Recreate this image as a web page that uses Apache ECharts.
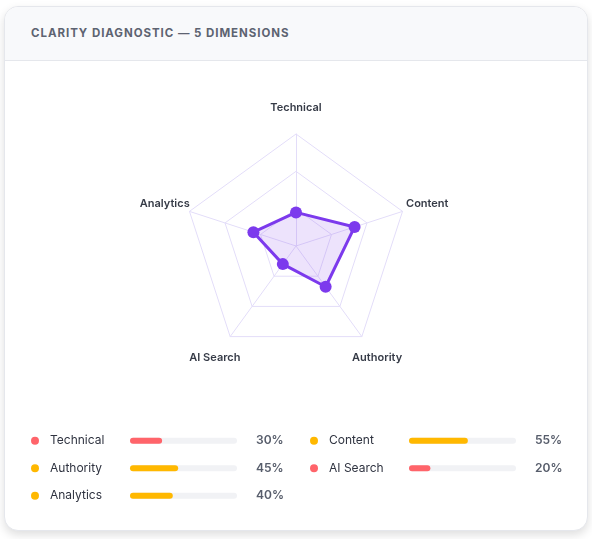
<!DOCTYPE html>
<html>
<head>
<meta charset="utf-8">
<script src="https://cdn.jsdelivr.net/npm/echarts@6/dist/echarts.min.js"></script>
<style>
    html, body { margin: 0; padding: 0; width: 592px; height: 539px; overflow: hidden; background: #fff; font-family: Inter, 'Noto Sans', sans-serif; }
    .card {
        position: absolute; left: 4px; top: 6px; width: 584px; height: 525px;
        box-sizing: border-box; border: 1px solid #e5e7ec; border-radius: 14px;
        background: #fff; box-shadow: 0 4px 10px rgba(0, 0, 0, 0.13); overflow: hidden;
    }
    .card-head {
        height: 54px; box-sizing: border-box; background: #f8f9fb; border-bottom: 1px solid #e5e7ec;
        padding-left: 26px; display: flex; align-items: center;
    }
    .card-head span {
        font-size: 11.5px; font-weight: 700; letter-spacing: 0.95px; color: #5d6371; margin-top: -2px;
    }
    #chart { position: absolute; left: 0; top: 0; width: 592px; height: 539px; }
</style>
</head>
<body>
<div class="card">
    <div class="card-head"><span>CLARITY DIAGNOSTIC — 5 DIMENSIONS</span></div>
</div>
<div id="chart"></div>
<script>
// 五个维度 (顺时针顺序，同时也是下方图例的行优先顺序)
const dimensions = ['Technical', 'Content', 'Authority', 'AI Search', 'Analytics'];
const scores = [30, 55, 45, 20, 40];
const tones = ['low', 'mid', 'mid', 'low', 'mid'];

// ECharts 雷达图按逆时针排列指标，这里给出逆时针顺序
const radarOrder = ['Technical', 'Analytics', 'AI Search', 'Authority', 'Content'];

// 下方图例：左列 / 右列
const leftNames = ['Technical', 'Authority', 'Analytics'];
const rightNames = ['Content', 'AI Search'];

const toneColor = { low: '#ff646a', mid: '#ffb800' };
const scoreOf = (name) => scores[dimensions.indexOf(name)];
const toneOf = (name) => tones[dimensions.indexOf(name)];

const chart = echarts.init(document.getElementById('chart'), null, { renderer: 'canvas' });

// 左侧标签：彩色圆点 + 名称
const nameLabel = {
    show: true,
    align: 'left',
    margin: 99,
    formatter: (value) => '{' + toneOf(value) + '|}{n|' + value + '}',
    rich: {
        low: { width: 8, height: 8, borderRadius: 4, backgroundColor: toneColor.low },
        mid: { width: 8, height: 8, borderRadius: 4, backgroundColor: toneColor.mid },
        n: { padding: [0, 0, 0, 11], fontSize: 12, color: '#2f3340', fontFamily: 'Inter' }
    }
};

const pctLabel = {
    show: true,
    align: 'left',
    margin: 19,
    fontSize: 12,
    fontWeight: 600,
    color: '#575d6b',
    fontFamily: 'Inter'
};

const barSeries = (names, idx) => ({
    type: 'bar',
    xAxisIndex: idx,
    yAxisIndex: idx * 2,
    barWidth: 6,
    silent: true,
    showBackground: true,
    backgroundStyle: { color: '#f1f2f5', borderRadius: 3 },
    data: names.map(n => ({
        value: scoreOf(n),
        itemStyle: { color: toneColor[toneOf(n)], borderRadius: 3 }
    }))
});

const categoryAxis = (names, idx) => ([
    {
        type: 'category', gridIndex: idx, inverse: true, data: names,
        axisLine: { show: false }, axisTick: { show: false }, axisLabel: nameLabel
    },
    {
        type: 'category', gridIndex: idx, inverse: true, position: 'right',
        data: names.map(n => scoreOf(n) + '%'),
        axisLine: { show: false }, axisTick: { show: false }, axisLabel: pctLabel
    }
]);

const option = {
    backgroundColor: 'transparent',
    animation: false,
    radar: {
        center: [296, 246],
        radius: 112,
        startAngle: 90,
        splitNumber: 3,
        shape: 'polygon',
        indicator: radarOrder.map(name => ({ name, max: 100 })),
        nameGap: 26,
        axisName: {
            color: '#363b47', fontSize: 11, fontWeight: 600, fontFamily: 'Inter',
            align: 'center', verticalAlign: 'middle'
        },
        splitLine: { lineStyle: { color: '#e3ddf9', width: 1 } },
        splitArea: { show: false },
        axisLine: { lineStyle: { color: '#e3ddf9', width: 1 } }
    },
    grid: [
        { left: 130, top: 427, width: 107, height: 82.5 },
        { left: 409, top: 427, width: 107, height: 55 }
    ],
    xAxis: [
        { type: 'value', gridIndex: 0, min: 0, max: 100, show: false },
        { type: 'value', gridIndex: 1, min: 0, max: 100, show: false }
    ],
    yAxis: [...categoryAxis(leftNames, 0), ...categoryAxis(rightNames, 1)],
    series: [
        {
            type: 'radar',
            symbol: 'circle',
            symbolSize: 12,
            lineStyle: { color: '#7c3aed', width: 3 },
            itemStyle: { color: '#7c3aed' },
            areaStyle: { color: 'rgba(124, 58, 237, 0.2)' },
            data: [{ value: radarOrder.map(scoreOf), name: 'Clarity' }]
        },
        barSeries(leftNames, 0),
        barSeries(rightNames, 1)
    ]
};

chart.setOption(option);
</script>
</body>
</html>
